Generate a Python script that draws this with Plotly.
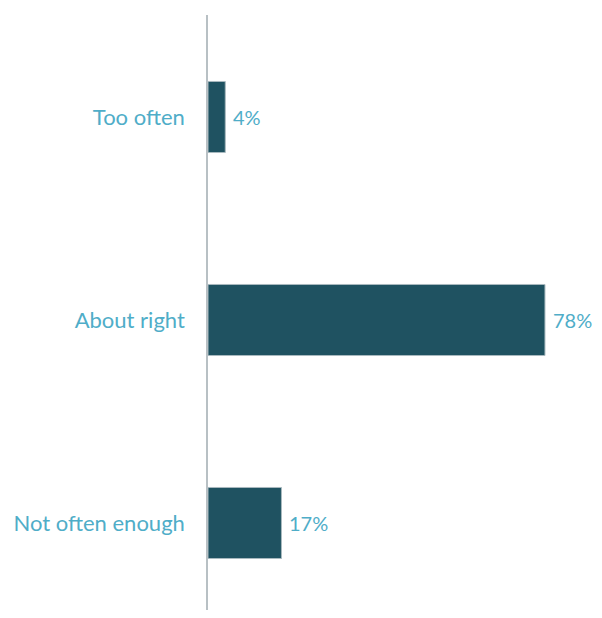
import plotly.graph_objects as go

categories = ["Too often", "About right", "Not often enough"]
values = [4, 78, 17]
labels = ["4%", "78%", "17%"]

bar_color = "#1F5261"
text_color = "#4FADC8"

fig = go.Figure()
fig.add_trace(go.Bar(
    x=values, y=categories, orientation="h",
    width=0.35,
    marker=dict(color=bar_color, line=dict(color="#a9b9bf", width=1)),
    hoverinfo="skip",
))
for c, v, t in zip(categories, values, labels):
    fig.add_annotation(x=v, y=c, text=t, showarrow=False, xanchor="left",
                       xshift=6, font=dict(size=20, color=text_color, family="Lato"))

fig.update_layout(
    width=586, height=602,
    margin=dict(l=200, r=0, t=7, b=0),
    paper_bgcolor="white", plot_bgcolor="white",
    showlegend=False,
    xaxis=dict(range=[0, 89.35], visible=False, fixedrange=True),
    yaxis=dict(range=[2.4286, -0.5025], showline=True, linecolor="#b8c0c4", linewidth=1.5,
               showgrid=False, zeroline=False, ticks="", ticklabelstandoff=17,
               tickfont=dict(size=22, color=text_color, family="Lato")),
    font=dict(family="Lato"),
)
fig.write_html("out.html")
